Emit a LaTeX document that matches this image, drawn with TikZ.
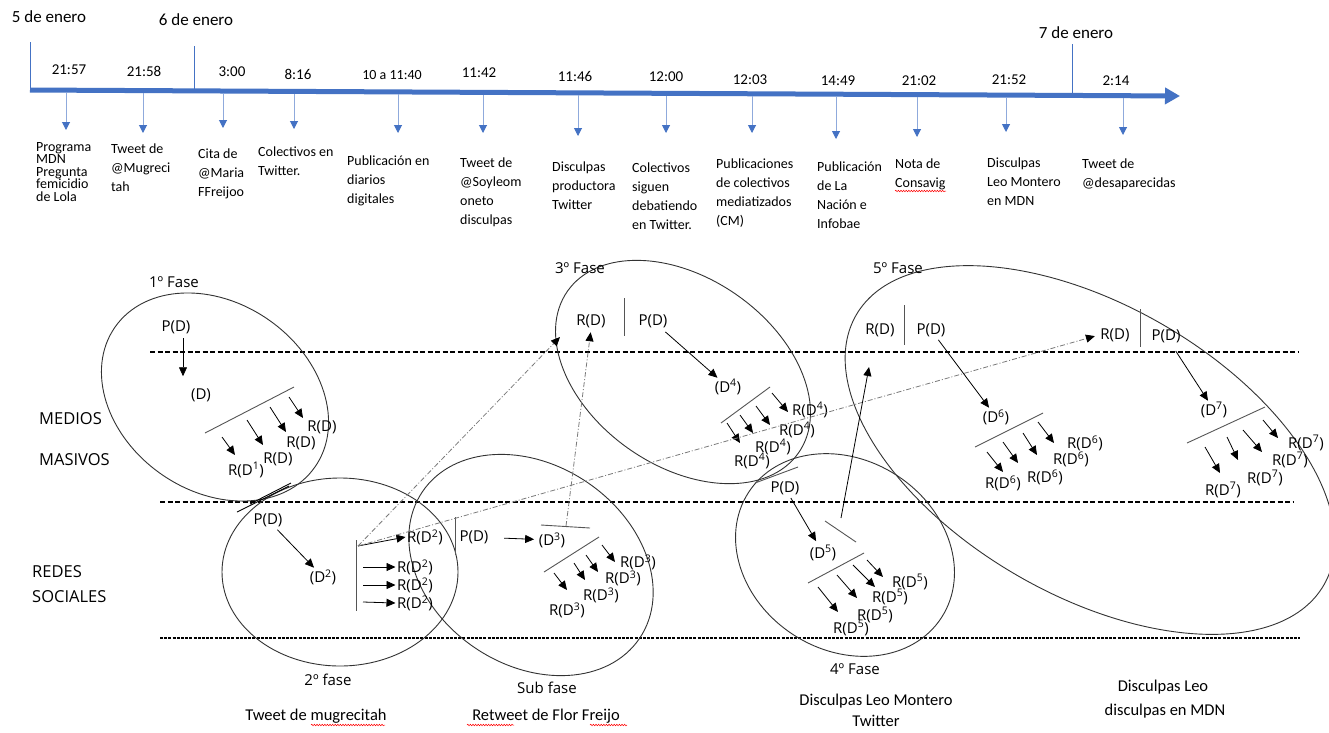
\documentclass[tikz,border=0pt]{standalone}
\usepackage{fontspec}
\setmainfont{Carlito}
\newfontfamily\osans{Open Sans}
\usetikzlibrary{arrows.meta,decorations.pathmorphing}
\definecolor{tlblue}{HTML}{4472C4}
\definecolor{tllight}{HTML}{8FAADC}
\definecolor{ellc}{HTML}{333333}
\definecolor{ddc}{HTML}{7A7A7A}
\definecolor{barc}{HTML}{555555}
\begin{document}
\begin{tikzpicture}[x=1pt,y=-1pt,
  tltime/.style={font=\fontsize{15}{18}\selectfont, inner sep=0pt},
  tldate/.style={font=\fontsize{17}{20}\selectfont, inner sep=0pt},
  tllab/.style={font=\fontsize{14}{19}\selectfont, anchor=north west, align=left, inner sep=0pt},
  tlvert/.style={tlblue, line width=0.8pt},
  tlmain/.style={tlblue, line width=5pt, -{Triangle[length=15pt,width=16pt]}},
  tltick/.style={tllight, line width=1pt, -{Triangle[length=8pt,width=8pt,color=tlblue]}},
  flab/.style={font=\osans\fontsize{15}{18}\selectfont, inner sep=1.5pt},
  bandlab/.style={font=\osans\fontsize{16.5}{20}\selectfont, inner sep=0pt, anchor=west},
  phaselab/.style={font=\osans\fontsize{15}{18}\selectfont, inner sep=0pt},
  captlab/.style={font=\fontsize{16.5}{20}\selectfont, inner sep=0pt},
  ellline/.style={ellc, line width=0.9pt},
  lvline/.style={black, line width=1.2pt, dash pattern=on 5pt off 2.5pt},
  lvfine/.style={black, line width=1.2pt, dash pattern=on 3pt off 1.2pt},
  fanarr/.style={black, line width=0.8pt, -{Triangle[length=9pt,width=8pt]}},
  barline/.style={barc, line width=0.9pt},
  ddarr/.style={ddc, line width=0.8pt, dash pattern=on 5pt off 2pt on 1pt off 2pt, -{Triangle[length=9pt,width=8pt,color=black]}},
  wavyline/.style={red, line width=0.5pt, decorate, decoration={snake, amplitude=0.8pt, segment length=2.6pt}}
]
\useasboundingbox (0,0) rectangle (1329,732);
\fill[white] (0,0) rectangle (1329,732);

% ---------------- timeline ----------------
\draw[tlvert] (30,42) -- (30,90);
\draw[tlvert] (194,46) -- (194,91);
\draw[tlvert] (1072,44) -- (1072,95);
\draw[tlmain] (30,90) -- (1180,96);
\node[tldate] (d5e) at (49,17) {5 de enero};
\node[tldate] (d6e) at (196,20) {6 de enero};
\node[tldate] (d7e) at (1076,33) {7 de enero};

\node[tltime] (t1) at (69,70) {21:57};
\node[tltime] (t2) at (144,71) {21:58};
\node[tltime] (t3) at (232,72) {3:00};
\node[tltime] (t4) at (298,74) {8:16};
\node[tltime, font=\fontsize{14}{17}\selectfont] (t5) at (392,75) {10 a 11:40};
\node[tltime] (t6) at (479,73) {11:42};
\node[tltime] (t7) at (575,76) {11:46};
\node[tltime] (t8) at (666,77) {12:00};
\node[tltime] (t9) at (750,80) {12:03};
\node[tltime] (t10) at (838,81) {14:49};
\node[tltime] (t11) at (919,81) {21:02};
\node[tltime] (t12) at (1009,80) {21:52};
\node[tltime] (t13) at (1116,81) {2:14};

\foreach \x/\tip in {66/130, 143/133, 223/128, 294/129, 398/133, 483/133, 578/136, 666/133, 752/133, 836/139, 917/137, 1006/132, 1123/135}
  \draw[tltick] (\x,{92.5+0.0052*(\x-30)}) -- (\x,\tip);

\node[tllab, font=\fontsize{14}{12.5}\selectfont] (l1) at (36,142) {Programa\\MDN\\Pregunta\\femicidio\\de Lola};
\node[tllab] (l2) at (111,144) {Tweet de\\@Mugreci\\tah};
\node[tllab] (l3) at (198,149) {Cita de\\@Maria\\FFreijoo};
\node[tllab] (l4) at (258,147) {Colectivos en\\Twitter.};
\node[tllab] (l5) at (347,156) {Publicación en\\diarios\\digitales};
\node[tllab] (l6) at (460,158) {Tweet de\\@Soyleom\\oneto\\disculpas};
\node[tllab] (l7) at (552,162) {Disculpas\\productora\\Twitter};
\node[tllab] (l8) at (632,163) {Colectivos\\siguen\\debatiendo\\en Twitter.};
\node[tllab] (l9) at (716,159) {Publicaciones\\de colectivos\\mediatizados\\(CM)};
\node[tllab] (l10) at (817,162) {Publicación\\de La\\Nación e\\Infobae};
\node[tllab] (l11) at (895,159) {Nota de\\Consavig};
\node[tllab] (l12) at (987,158) {Disculpas\\Leo Montero\\en MDN};
\node[tllab] (l13) at (1082,159) {Tweet de\\@desaparecidas};
\draw[wavyline] (895,191) -- (946,191);

% ---------------- bands ----------------
\node[bandlab] (m1) at (39,419) {MEDIOS};
\node[bandlab] (m2) at (39,460) {MASIVOS};
\node[bandlab] (s1) at (32,572) {REDES};
\node[bandlab] (s2) at (32,597) {SOCIALES};
\draw[lvline] (150,352) -- (1298,352);
\draw[lvline] (160,502) -- (1293,502);
\draw[lvfine] (160,638) -- (1300,638);

% ---------------- ellipses ----------------
\draw[ellline, rotate around={-35:(215,397)}] (215,397) ellipse [x radius=122pt, y radius=94pt];
\draw[ellline] (340,572) ellipse [x radius=118pt, y radius=94pt];
\draw[ellline, rotate around={-34:(531,565)}] (531,565) ellipse [x radius=131pt, y radius=100pt];
\draw[ellline, rotate around={-35:(683,372)}] (683,372) ellipse [x radius=141pt, y radius=94pt];
\draw[ellline, rotate around={-33:(845,555)}] (845,555) ellipse [x radius=115pt, y radius=95pt];
\draw[ellline, rotate around={-30:(1090,450)}] (1090,450) ellipse [x radius=270pt, y radius=145pt];

% ---------------- phase 1 ----------------
\node[phaselab] (ph1) at (174,282) {1º Fase};
\node[flab] (pd1) at (176,327) {P(D)};
\node[flab] (d1) at (201,395) {(D)};
\draw[fanarr] (pd1.south) ++(7,3) -- ++(0,38);
\draw[barline] (205,433) -- (294,387);
\draw[fanarr] (222,437) -- (235,455);
\draw[fanarr] (247,420) -- (263,445);
\draw[fanarr] (270,407) -- (286,432);
\draw[fanarr] (289,397) -- (303,418);
\node[flab] (r1a) at (322,427) {R(D)};
\node[flab] (r1b) at (301,443) {R(D)};
\node[flab] (r1c) at (278,459) {R(D)};
\node[flab] (r1d) at (246,470) {R(D\textsuperscript{1})};
\draw[black, line width=0.9pt] (237,512) -- (289,486);
\draw[black, line width=0.9pt] (250,504) -- (291,483);

% ---------------- phase 2 ----------------
\node[phaselab] (ph2) at (328,680) {2º fase};
\node[captlab] (cap2) at (316,716) {Tweet de mugrecitah};
\draw[wavyline] (311,725) -- (385,725);
\node[flab] (pd2) at (268,520) {P(D)};
\node[flab] (d2) at (323,577) {(D\textsuperscript{2})};
\draw[fanarr, shorten <=2pt] (pd2) -- (d2);
\draw[barline] (356,540) -- (356,611);
\coordinate (c2) at (358,546);
\node[flab] (r2a) at (425,537) {R(D\textsuperscript{2})};
\node[flab] (r2b) at (415,567) {R(D\textsuperscript{2})};
\node[flab] (r2c) at (415,585) {R(D\textsuperscript{2})};
\node[flab] (r2d) at (415,603) {R(D\textsuperscript{2})};
\draw[fanarr] (c2) -- (r2a.west);
\draw[fanarr] (363,567) -- (r2b.west);
\draw[fanarr] (363,585) -- (r2c.west);
\draw[fanarr] (363,602) -- (r2d.west);

% ---------------- sub fase ----------------
\node[phaselab] (phs) at (547,688) {Sub fase};
\node[captlab] (caps) at (546,716) {Retweet de Flor Freijo};
\draw[wavyline] (467,725) -- (514,725);
\draw[wavyline] (590,725) -- (627,725);
\draw[barline] (455,517) -- (455,555);
\node[flab] (pd3) at (474,537) {P(D)};
\node[flab] (d3) at (552,540) {(D\textsuperscript{3})};
\draw[fanarr, shorten <=14pt, shorten >=3pt] (pd3) -- (d3);
\draw[barline] (541,525) -- (590,528);
\coordinate (c3) at (566,526);
\draw[barline] (544,572) -- (599,537);
\draw[fanarr] (554,573) -- (567,590);
\draw[fanarr] (574,563) -- (585,580);
\draw[fanarr] (586,555) -- (598,572);
\draw[fanarr] (602,545) -- (615,562);
\node[flab] (r3a) at (638,562) {R(D\textsuperscript{3})};
\node[flab] (r3b) at (623,578) {R(D\textsuperscript{3})};
\node[flab] (r3c) at (601,595) {R(D\textsuperscript{3})};
\node[flab] (r3d) at (567,610) {R(D\textsuperscript{3})};

% ---------------- phase 3 ----------------
\node[phaselab] (ph3) at (580,268) {3º Fase};
\node[flab] (rd3) at (591,321) {R(D)};
\draw[barline] (624,298) -- (624,336);
\node[flab] (pd4) at (653,321) {P(D)};
\node[flab] (d4) at (728,387) {(D\textsuperscript{4})};
\draw[fanarr, shorten <=4pt] (pd4) -- (d4);
\draw[barline] (721,423) -- (770,387);
\draw[fanarr] (727,423) -- (740,443);
\draw[fanarr] (740,415) -- (753,433);
\draw[fanarr] (756,406) -- (770,425);
\draw[fanarr] (772,393) -- (788,412);
\node[flab] (r4a) at (810,410) {R(D\textsuperscript{4})};
\node[flab] (r4b) at (797,430) {R(D\textsuperscript{4})};
\node[flab] (r4c) at (773,447) {R(D\textsuperscript{4})};
\node[flab] (r4d) at (752,461) {R(D\textsuperscript{4})};

% ---------------- phase 4 ----------------
\node[phaselab] (ph4) at (855,669) {4º Fase};
\node[captlab] (cap4a) at (876,701) {Disculpas Leo Montero};
\node[captlab] (cap4b) at (876,721) {Twitter};
\draw[barline] (755,483) -- (798,467);
\node[flab] (pd5) at (785,488) {P(D)};
\node[flab] (d5) at (823,553) {(D\textsuperscript{5})};
\draw[fanarr, shorten <=2pt, shorten >=3pt] (pd5) -- (d5);
\draw[barline] (825,521) -- (856,542);
\coordinate (c4) at (841,518);
\draw[barline] (808,583) -- (864,553);
\draw[fanarr] (818,587) -- (838,612);
\draw[fanarr] (837,575) -- (857,598);
\draw[fanarr] (853,565) -- (875,587);
\draw[fanarr] (867,560) -- (883,577);
\node[flab] (r5a) at (910,582) {R(D\textsuperscript{5})};
\node[flab] (r5b) at (890,597) {R(D\textsuperscript{5})};
\node[flab] (r5c) at (875,615) {R(D\textsuperscript{5})};
\node[flab] (r5d) at (851,628) {R(D\textsuperscript{5})};

% ---------------- phase 5 ----------------
\node[phaselab] (ph5) at (898,268) {5º Fase};
\node[captlab] (cap5a) at (1163,687) {Disculpas Leo};
\node[captlab] (cap5b) at (1165,711) {disculpas en MDN};
\node[flab] (rd5a) at (880,330) {R(D)};
\draw[barline] (904,305) -- (904,345);
\node[flab] (pd6) at (931,330) {P(D)};
\node[flab] (d6) at (996,417) {(D\textsuperscript{6})};
\draw[fanarr, shorten <=2pt] (pd6) -- (d6);
\draw[barline] (975,447) -- (1043,413);
\draw[fanarr] (987,452) -- (1003,472);
\draw[fanarr] (1003,442) -- (1018,463);
\draw[fanarr] (1023,433) -- (1037,455);
\draw[fanarr] (1038,422) -- (1054,443);
\node[flab] (r6a) at (1085,443) {R(D\textsuperscript{6})};
\node[flab] (r6b) at (1071,459) {R(D\textsuperscript{6})};
\node[flab] (r6c) at (1045,477) {R(D\textsuperscript{6})};
\node[flab] (r6d) at (1003,483) {R(D\textsuperscript{6})};

\node[flab] (rd5b) at (1115,335) {R(D)};
\draw[barline] (1140,309) -- (1140,347);
\node[flab] (pd7) at (1166,336) {P(D)};
\node[flab] (d7) at (1214,410) {(D\textsuperscript{7})};
\draw[fanarr, shorten <=8pt] (pd7) -- (d7);
\draw[barline] (1187,443) -- (1265,407);
\draw[fanarr] (1205,447) -- (1220,473);
\draw[fanarr] (1227,437) -- (1238,460);
\draw[fanarr] (1243,430) -- (1262,452);
\draw[fanarr] (1263,420) -- (1278,438);
\node[flab] (r7a) at (1306,443) {R(D\textsuperscript{7})};
\node[flab] (r7b) at (1290,460) {R(D\textsuperscript{7})};
\node[flab] (r7c) at (1265,478) {R(D\textsuperscript{7})};
\node[flab] (r7d) at (1223,490) {R(D\textsuperscript{7})};

% ---------------- connectors between phases ----------------
\coordinate (t3a) at (560,337);
\coordinate (t5) at (869,367);
\draw[ddarr] (c2) -- (t3a);
\draw[ddarr, shorten >=3pt] (c3) -- (rd3.south);
\draw[ddarr, shorten >=4pt] (c2) -- (rd5b.west);
\draw[fanarr] (c4) -- (t5);
\end{tikzpicture}
\end{document}
